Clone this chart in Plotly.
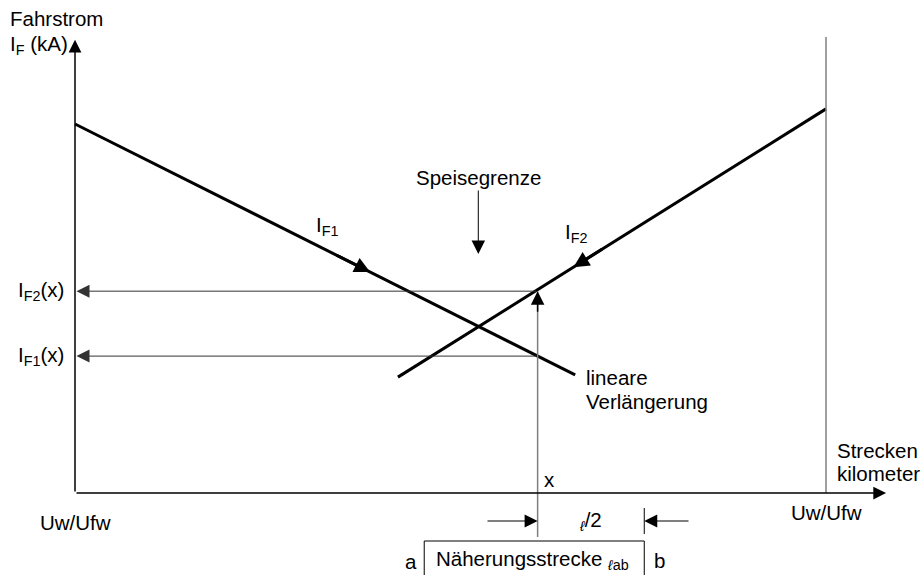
import plotly.graph_objects as go

# ---------------- schematic data (km along the line, kA feeding current) ----------------
uw_km = [0.0, 10.0]                 # substations Uw/Ufw (left, right)
if1_km = [0.0, 6.66]                # I_F1 incl. linear extension
if1_ka = [10.0, 3.20]
if2_km = [4.30, 10.0]               # I_F2 incl. linear extension
if2_ka = [3.14, 10.41]
x_km = 6.16                         # location x
if2_at_x = 5.47                     # I_F2(x)
if1_at_x = 3.71                     # I_F1(x)
speisegrenze_km = 5.37              # feeding boundary
naeherung_km = [4.65, 7.58]         # approach section a .. b
x_axis_end_km = 10.8
y_axis_end_ka = 12.28

labels_left = ["I<sub>F2</sub>(x)", "I<sub>F1</sub>(x)"]
values_left = [if2_at_x, if1_at_x]

# ---------------- frame: screen pixel <-> data ----------------
W, H = 921, 575
KM_PX, KA_PX = 75.1, 36.9
X0_PX, Y0_PX = 75.0, 493.0


def px2x(px):
    return (px - X0_PX) / KM_PX


def py2y(py):
    return (Y0_PX - py) / KA_PX


xr = [px2x(0), px2x(W)]
yr = [py2y(H), py2y(0)]

FONT = dict(family="Liberation Sans, Arial, sans-serif", size=20.5, color="black")
GRAY = "#7f7f7f"

fig = go.Figure()


def line(xs, ys, color="black", width=1.0):
    fig.add_trace(go.Scatter(x=xs, y=ys, mode="lines", hoverinfo="skip",
                             line=dict(color=color, width=width), showlegend=False))


# main current lines
line(if1_km, if1_ka, width=3)
line(if2_km, if2_ka, width=3)
# right substation vertical
line([uw_km[1], uw_km[1]], [0, py2y(37)], color=GRAY, width=1.5)
# vertical at x
line([x_km, x_km], [if2_at_x, py2y(537)], color=GRAY, width=1.5)
# approach-section box
line([naeherung_km[0], naeherung_km[0], naeherung_km[1], naeherung_km[1]],
     [yr[0], py2y(541), py2y(541), yr[0]], color="black", width=1)
# dimension tick at b
line([naeherung_km[1], naeherung_km[1]], [py2y(508), py2y(534)], color="black", width=1)

ann = []


def arrow(x, y, ax, ay, width=1.0, color="black", size=2.4):
    ann.append(dict(x=x, y=y, ax=ax, ay=ay, xref="x", yref="y", axref="x", ayref="y",
                    text="", showarrow=True, arrowhead=2, arrowsize=size,
                    arrowwidth=width, arrowcolor=color, standoff=0, startstandoff=0))


def text(x, y, s, xanchor="left", yanchor="middle", size=None):
    f = dict(FONT)
    if size:
        f["size"] = size
    ann.append(dict(x=x, y=y, xref="x", yref="y", text=s, showarrow=False,
                    xanchor=xanchor, yanchor=yanchor, font=f))


# axes with arrows
arrow(0, y_axis_end_ka, 0, 0, width=1.5, size=1.7)
arrow(x_axis_end_km, 0, 0, 0, width=1.5, size=1.7)
# horizontal read-off arrows
for v in values_left:
    arrow(0.02, v, x_km, v, width=1, color="#333333", size=2.6)
# arrow head at top of x vertical
arrow(x_km, if2_at_x, x_km, if2_at_x - 0.6, width=1.5, size=1.8)
# Speisegrenze arrow
arrow(speisegrenze_km, py2y(254), speisegrenze_km, py2y(189), width=1, size=2.7)
# l/2 dimension arrows
arrow(x_km, py2y(521), px2x(486), py2y(521), width=1, size=2.6)
arrow(naeherung_km[1], py2y(521), px2x(690), py2y(521), width=1, size=2.6)


# direction arrowheads on the current lines
def on_line(xs, ys, t):
    return xs[0] + (xs[1] - xs[0]) * t, ys[0] + (ys[1] - ys[0]) * t


hx, hy = on_line(if1_km, if1_ka, 0.59)
bx, by = on_line(if1_km, if1_ka, 0.52)
arrow(hx, hy, bx, by, width=3, size=1.05)
hx, hy = on_line(if2_km, if2_ka, 0.41)
bx, by = on_line(if2_km, if2_ka, 0.48)
arrow(hx, hy, bx, by, width=3, size=1.05)

# texts
text(px2x(8), py2y(18), "Fahrstrom")
text(px2x(8), py2y(45), "I<sub>F</sub> (kA)")
for s, v in zip(labels_left, values_left):
    text(px2x(66), v, s, xanchor="right")
text(speisegrenze_km, py2y(177), "Speisegrenze", xanchor="center")
text(px2x(314), py2y(226), "I<sub>F1</sub>")
text(px2x(563), py2y(233), "I<sub>F2</sub>")
text(px2x(584), py2y(377), "lineare")
text(px2x(584), py2y(401), "Verlängerung")
text(px2x(542), py2y(479), "x")
text(uw_km[0], py2y(522), "Uw/Ufw", xanchor="center")
text(uw_km[1], py2y(512), "Uw/Ufw", xanchor="center")
text(px2x(835), py2y(450), "Strecken")
text(px2x(835), py2y(473), "kilometer")
text(px2x(577), py2y(521), "<sub><i>ℓ</i></sub>/2")
text(px2x(403), py2y(561), "a")
text(px2x(652), py2y(560), "b")
text(px2x(434), py2y(560), "Näherungsstrecke <sub><i>ℓ</i>ab</sub>")

fig.update_layout(
    width=W, height=H,
    margin=dict(l=0, r=0, t=0, b=0),
    paper_bgcolor="white", plot_bgcolor="white",
    xaxis=dict(range=xr, visible=False, fixedrange=True),
    yaxis=dict(range=yr, visible=False, fixedrange=True),
    annotations=ann,
    showlegend=False,
)

fig.write_html(
    "out.html",
    config={"displayModeBar": False},
    post_script="document.body.style.margin='0';document.body.style.overflow='hidden';",
)
